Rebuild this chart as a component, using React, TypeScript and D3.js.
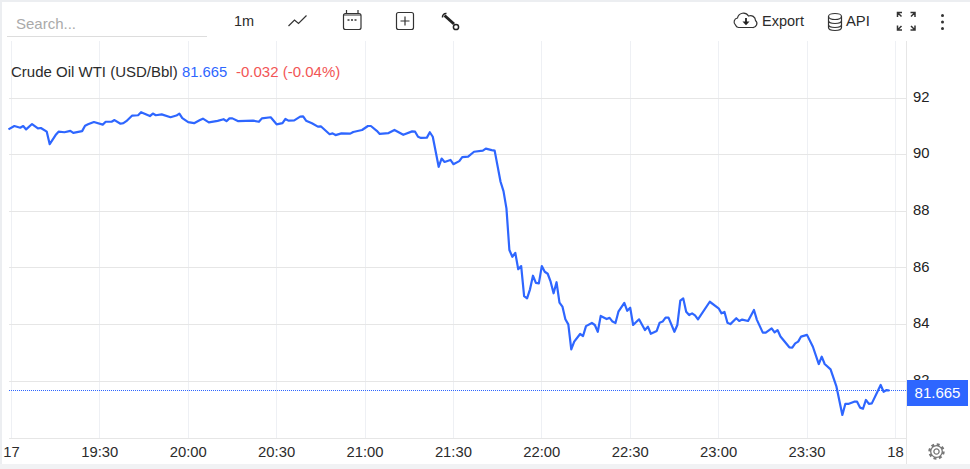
import React, { useEffect, useRef } from "react";
import * as d3 from "d3";

// minutes after 19:00, one entry per price below
const MINUTES = [
  -1, 1, 3, 4, 5, 7, 9, 10, 12, 13, 15, 16, 18, 20, 21, 24, 25, 26, 28, 31, 32, 34, 35, 37, 38, 39, 41, 43, 44, 47,
  48, 49, 51, 54, 56, 57, 58, 60, 62, 64, 65, 67, 70, 72, 73, 74, 75, 77, 82, 84, 85, 88, 90, 92, 93, 94, 96, 98, 99, 100,
  102, 104, 105, 108, 109, 110, 112, 115, 116, 119, 121, 122, 124, 125, 128, 130, 133, 136, 137, 138, 139, 141, 142, 143, 145, 146, 147, 149, 150, 152,
  153, 155, 157, 160, 161, 163, 164, 166, 167, 168, 169, 170, 171, 172, 173, 174, 175, 176, 177, 178, 179, 180, 181, 182, 183, 184, 185, 186, 187, 188,
  189, 190, 191, 193, 194, 195, 197, 198, 199, 200, 202, 203, 204, 205, 206, 208, 209, 210, 211, 213, 215, 216, 217, 219, 220, 221, 222, 223, 225, 226,
  227, 228, 229, 230, 231, 232, 233, 237, 240, 241, 242, 243, 244, 246, 247, 248, 250, 252, 253, 255, 256, 258, 259, 260, 261, 264, 265, 266, 267, 268,
  270, 272, 274, 275, 276, 278, 280, 282, 283, 284, 286, 287, 288, 289, 290, 291, 292, 295, 296, 297, 298,
];
const PRICES = [
  90.89, 91.01, 90.95, 91.01, 90.89, 91.08, 90.93, 90.94, 90.81, 90.37, 90.69, 90.81, 90.79, 90.84, 90.77, 90.83, 91.02, 91.07, 91.15, 91.06,
  91.16, 91.16, 91.22, 91.09, 91.11, 91.18, 91.38, 91.39, 91.5, 91.36, 91.45, 91.39, 91.42, 91.32, 91.38, 91.45, 91.29, 91.15, 91.11, 91.22,
  91.27, 91.14, 91.19, 91.25, 91.18, 91.28, 91.28, 91.18, 91.2, 91.16, 91.28, 91.32, 91.07, 91.11, 91.26, 91.2, 91.21, 91.34, 91.35, 91.2,
  91.11, 90.99, 91.0, 90.72, 90.75, 90.69, 90.75, 90.74, 90.8, 90.87, 91.01, 91.01, 90.84, 90.73, 90.76, 90.87, 90.7, 90.82, 90.81, 90.63,
  90.59, 90.6, 90.79, 90.63, 89.57, 89.86, 89.74, 89.81, 89.66, 89.77, 89.91, 89.93, 90.1, 90.14, 90.21, 90.16, 90.14, 89.04, 88.71, 88.1,
  86.63, 86.39, 86.53, 85.95, 86.06, 85.0, 84.92, 85.24, 85.72, 85.47, 85.45, 86.06, 85.86, 85.79, 85.51, 85.1, 85.49, 84.77, 84.63, 84.18,
  84.0, 83.12, 83.39, 83.66, 83.59, 83.94, 84.05, 83.98, 83.74, 84.3, 84.19, 84.23, 84.1, 84.05, 84.45, 84.76, 84.48, 84.59, 83.98, 84.18,
  83.8, 83.92, 83.67, 83.77, 84.06, 84.1, 84.24, 84.24, 83.74, 83.98, 84.84, 84.92, 84.45, 84.33, 84.39, 84.32, 84.18, 84.8, 84.57, 84.39,
  84.44, 84.06, 84.01, 84.22, 84.12, 84.17, 84.12, 84.51, 84.16, 83.71, 83.71, 83.86, 83.72, 83.8, 83.57, 83.19, 83.18, 83.33, 83.39, 83.57,
  83.63, 83.21, 82.6, 82.86, 82.6, 82.41, 81.8, 80.8, 81.19, 81.19, 81.27, 81.27, 81.06, 81.02, 81.33, 81.19, 81.21, 81.86, 81.62, 81.68, 81.665,
];
const X_TICKS = [0, 30, 60, 90, 120, 150, 180, 210, 240, 270, 300];
const X_LABELS = ["17", "19:30", "20:00", "20:30", "21:00", "21:30", "22:00", "22:30", "23:00", "23:30", "18"];
const Y_TICKS = [82, 84, 86, 88, 90, 92];
const LAST_PRICE = 81.665;

const FONT = "'Liberation Sans', Arial, sans-serif";
const BLUE = "#2e66ff";
const TEXT = "#2b2b2b";

export default function App() {
  const chartRef = useRef(null);

  useEffect(() => {
    const left = 9;
    const right = 906.5;
    const top = 41;
    const bottom = 438;

    const x = d3.scaleLinear().domain([0, 300]).range([11.4, 895.4]);
    const y = d3.scaleLinear().domain([82, 92]).range([381, 98]);

    const g = d3.select(chartRef.current);
    g.selectAll("*").remove();

    // x axis, ticks stretched up to make the vertical grid
    const xAxis = g
      .append("g")
      .attr("transform", "translate(0," + bottom + ")")
      .call(
        d3
          .axisBottom(x)
          .offset(0)
          .tickValues(X_TICKS)
          .tickSize(-(bottom - top))
          .tickPadding(8)
          .tickFormat((d, i) => X_LABELS[i]),
      );
    xAxis.select(".domain").remove();
    xAxis.selectAll("line").attr("stroke", "#eef0f4").attr("shape-rendering", "crispEdges");
    xAxis
      .selectAll("text")
      .attr("y", 14)
      .attr("dy", "0.35em")
      .attr("fill", TEXT)
      .attr("font-size", 14.8)
      .attr("font-family", FONT);

    // y axis with the horizontal grid
    const yAxis = g
      .append("g")
      .attr("transform", "translate(" + right + ",0)")
      .call(
        d3
          .axisRight(y)
          .offset(0)
          .tickValues(Y_TICKS)
          .tickSize(-(right - left))
          .tickPadding(6)
          .tickFormat(d3.format("d")),
      );
    yAxis.select(".domain").remove();
    yAxis.selectAll("line").attr("stroke", "#e6e6e6").attr("shape-rendering", "crispEdges");
    yAxis
      .selectAll("text")
      .attr("x", 6.5)
      .attr("dy", "0.26em")
      .attr("fill", "#222")
      .attr("font-size", 14.8)
      .attr("font-family", FONT);

    // frame lines
    g.append("line")
      .attr("x1", left)
      .attr("x2", right)
      .attr("y1", bottom + 0.5)
      .attr("y2", bottom + 0.5)
      .attr("stroke", "#e6e6e6");
    g.append("line")
      .attr("x1", right)
      .attr("x2", right)
      .attr("y1", top)
      .attr("y2", 464)
      .attr("stroke", "#e6e6e6");

    // last price marker
    g.append("line")
      .attr("x1", left)
      .attr("x2", right)
      .attr("y1", Math.floor(y(LAST_PRICE)) + 0.5)
      .attr("y2", Math.floor(y(LAST_PRICE)) + 0.5)
      .attr("stroke", BLUE)
      .attr("stroke-dasharray", "1 1");

    const line = d3
      .line<number>()
      .x((d) => x(d))
      .y((d, i) => y(PRICES[i]));
    g.append("path")
      .attr("d", line(MINUTES))
      .attr("fill", "none")
      .attr("stroke", BLUE)
      .attr("stroke-width", 2.2)
      .attr("stroke-linejoin", "round");

    g.append("rect").attr("x", 907).attr("y", 380).attr("width", 61).attr("height", 26).attr("fill", BLUE);
    g.append("text")
      .attr("x", 937.5)
      .attr("y", 393)
      .attr("dy", "0.35em")
      .attr("text-anchor", "middle")
      .attr("fill", "#fff")
      .attr("font-size", 15)
      .attr("font-family", FONT)
      .text(LAST_PRICE.toFixed(3));
  }, []);

  const icon = { fill: "none", stroke: "#333", strokeWidth: 1.2 };

  return (
    <svg
      width={970}
      height={469}
      style={{ position: "absolute", left: 0, top: 0, display: "block", background: "#fff" }}
      fontFamily={FONT}
    >
      {/* page edges */}
      <rect x={0} y={0} width={970} height={2} fill="#eceef1" />
      <rect x={0} y={0} width={2} height={469} fill="#eceef1" />
      <rect x={0} y={464} width={970} height={5} fill="#f1f2f4" />

      {/* toolbar */}
      <text x={16} y={29} fontSize={15} fill="#aaa">
        Search...
      </text>
      <line x1={7} x2={207} y1={36.5} y2={36.5} stroke="#ddd" />
      <text x={234} y={26} fontSize={14.5} fill={TEXT}>
        1m
      </text>
      <path d="M288.5 26l6-6 4 3.5 8-8" {...icon} />
      <g {...icon}>
        <rect x={343.5} y={13.5} width={17.5} height={16} rx={2} />
        <path d="M343.5 15h17.500M346.500 10v3.500M358 10v3.500" />
      </g>
      <path d="M347.500 20h9" stroke="#333" strokeWidth={1.6} strokeDasharray="2 1.500" />
      <g {...icon}>
        <rect x={396.5} y={12.5} width={17} height={17} rx={2} />
        <path d="M405 16.5v9M400.5 21h9" />
      </g>
      {/* wrench */}
      <path d="M444.500 15.500l9.500 8.500" stroke="#222" strokeWidth={3} fill="none" />
      <path d="M442.500 17.500a3.500 3.500 0 0 1 4-4" stroke="#222" strokeWidth={1.500} fill="none" />
      <circle cx={456} cy={27} r={2.600} fill="none" stroke="#222" strokeWidth={1.500} />

      <path d="M735.500 25a4 4 0 0 1 2-7 6 6 0 0 1 11-2 5 5 0 0 1 7 4.500 4 4 0 0 1-3 7h-14a4 4 0 0 1-3-2.500z" {...icon} />
      <path d="M746 18v4" stroke="#222" strokeWidth={1.800} />
      <path d="M742.500 21.500h7l-3.500 3.800z" fill="#222" />
      <text x={762} y={26} fontSize={14.5} fill={TEXT}>
        Export
      </text>
      <g {...icon}>
        <ellipse cx={835} cy={16.500} rx={6.500} ry={3} />
        <path d="M828.500 16.500v11c0 1.700 2.900 3 6.500 3s6.500-1.300 6.500-3v-11M828.500 20.500c0 1.700 2.900 3 6.500 3s6.500-1.300 6.500-3M828.500 24.500c0 1.700 2.900 3 6.500 3s6.500-1.300 6.500-3" />
      </g>
      <text x={846} y={26} fontSize={14.8} fill={TEXT}>
        API
      </text>
      <g stroke="#333" strokeWidth={1.5} fill="none">
        <path d="M897.500 17v-4.500h4.500M897.500 12.500l4 4M915 17v-4.500h-4.500M915 12.500l-4 4M897.500 25.500v4.500h4.500M897.500 30l4-4M915 25.500v4.500h-4.500M915 30l-4-4" />
      </g>
      <circle cx={942.500} cy={15.500} r={1.500} fill="#333" />
      <circle cx={942.500} cy={22} r={1.500} fill="#333" />
      <circle cx={942.500} cy={28.500} r={1.500} fill="#333" />

      <g ref={chartRef} />

      {/* legend */}
      <text x={11} y={77} fontSize={15} fill={TEXT}>
        Crude Oil WTI (USD/Bbl)
      </text>
      <text x={182} y={77} fontSize={14.8} fill={BLUE}>
        81.665
      </text>
      <text x={236} y={77} fontSize={15} fill="#f25555">
        -0.032 (-0.04%)
      </text>

      {/* settings gear */}
      <g transform="translate(936.500,451.500)" fill="none" stroke="#777">
        <circle r={2.600} strokeWidth={1.300} />
        <circle r={5.800} strokeWidth={1.300} />
        <circle r={7} strokeWidth={2.400} strokeDasharray="2.900 2.600" />
      </g>
    </svg>
  );
}
